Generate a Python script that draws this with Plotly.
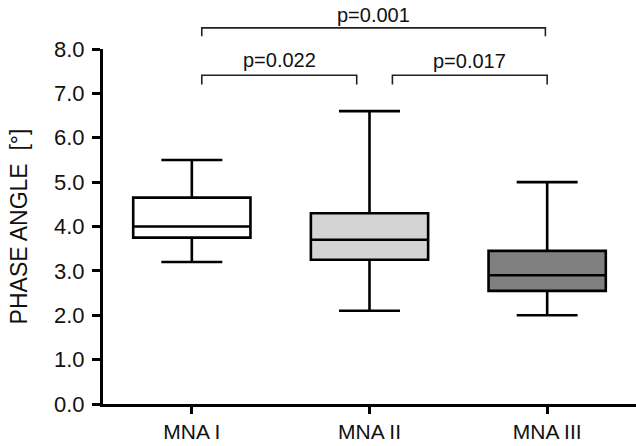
import plotly.graph_objects as go

categories = ["MNA I", "MNA II", "MNA III"]
lower_whisker = [3.2, 2.1, 2.0]
q1_values = [3.75, 3.25, 2.55]
median_values = [4.0, 3.7, 2.9]
q3_values = [4.65, 4.3, 3.45]
upper_whisker = [5.5, 6.6, 5.0]
fill_colors = ["#ffffff", "#d4d4d4", "#808080"]
y_tick_values = [0, 1, 2, 3, 4, 5, 6, 7, 8]

# significance brackets: (left index, right index, label)
comparisons = [(0, 2, "p=0.001"), (0, 1, "p=0.022"), (1, 2, "p=0.017")]

fig = go.Figure()
for i, cat in enumerate(categories):
    fig.add_trace(go.Box(
        x=[cat],
        q1=[q1_values[i]], median=[median_values[i]], q3=[q3_values[i]],
        lowerfence=[lower_whisker[i]], upperfence=[upper_whisker[i]],
        fillcolor=fill_colors[i],
        line=dict(color="#000000", width=2.6),
        width=0.66, whiskerwidth=0.52,
        boxpoints=False, showlegend=False, hoverinfo="skip",
    ))

x_range = [-0.5, 2.5]
y_range = [0, 8]


def px(xv):
    return (xv - x_range[0]) / (x_range[1] - x_range[0])


def py(yv):
    return (yv - y_range[0]) / (y_range[1] - y_range[0])


bracket_geom = {
    (0, 2): (0.056, 1.99, 8.475, 8.29, 8.76),
    (0, 1): (0.056, 0.928, 7.41, 7.20, 7.76),
    (1, 2): (1.129, 2.0, 7.41, 7.20, 7.73),
}
shapes = []
annotations = []
for a, b, label in comparisons:
    x0, x1, yl, yt, ytext = bracket_geom[(a, b)]
    shapes.append(dict(type="path", xref="paper", yref="paper",
                       path=f"M {px(x0)} {py(yt)} L {px(x0)} {py(yl)} L {px(x1)} {py(yl)} L {px(x1)} {py(yt)}",
                       line=dict(color="#222222", width=1.6)))
    annotations.append(dict(x=px((x0 + x1) / 2), y=py(ytext), xref="paper", yref="paper",
                            text=label, showarrow=False, xanchor="center", yanchor="middle",
                            font=dict(size=20, color="#111111")))

fig.update_layout(
    width=636, height=446,
    margin=dict(l=103, r=0, t=49, b=42),
    paper_bgcolor="white", plot_bgcolor="white",
    boxmode="overlay",
    font=dict(family="Liberation Sans, Arial, sans-serif", color="#111111"),
    shapes=shapes, annotations=annotations,
    xaxis=dict(range=x_range, showgrid=False, zeroline=False, automargin=False,
               showline=True, linecolor="#000000", linewidth=3,
               ticks="outside", ticklen=7, tickwidth=2.5, tickcolor="#000000",
               tickfont=dict(size=21), ticklabelstandoff=0),
    yaxis=dict(range=y_range, showgrid=False, zeroline=False, automargin=False,
               showline=True, linecolor="#000000", linewidth=3,
               ticks="outside", ticklen=8, tickwidth=2.5, tickcolor="#000000",
               tickvals=y_tick_values, tickformat=".1f",
               tickfont=dict(size=22), ticklabelstandoff=3,
               title=dict(text="PHASE ANGLE  [°]", font=dict(size=23), standoff=20)),
)

fig.write_html("out.html", config={"displayModeBar": False},
               post_script="document.body.style.margin='0';document.body.style.overflow='hidden';")
